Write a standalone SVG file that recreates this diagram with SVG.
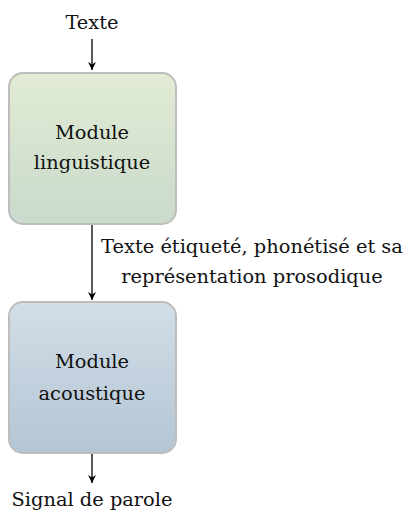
<svg xmlns="http://www.w3.org/2000/svg" width="406" height="516" viewBox="0 0 406 516">
<style>
text{font-family:"DejaVu Serif","Liberation Serif",serif;font-size:19.4px;fill:#111;text-anchor:middle}
.box{stroke:#bdbdbd;stroke-width:2}
.edge{stroke:#000;stroke-width:1.3;fill:none;marker-end:url(#ah)}
</style>
<defs>
<linearGradient id="g1" x1="0" y1="0" x2="0" y2="1"><stop offset="0" stop-color="#e2ecd4"/><stop offset="1" stop-color="#c9d9cb"/></linearGradient>
<linearGradient id="g2" x1="0" y1="0" x2="0" y2="1"><stop offset="0" stop-color="#d2dee7"/><stop offset="1" stop-color="#b3c5d4"/></linearGradient>
<marker id="ah" viewBox="0 0 10 10" refX="10" refY="5" markerWidth="8" markerHeight="8" markerUnits="userSpaceOnUse" orient="auto"><path d="M0,0 L10,5 L0,10 L3,5 Z" fill="#000"/></marker>
</defs>
<g id="connectors">
<line class="edge" x1="92" y1="39" x2="92" y2="70"/>
<line class="edge" x1="92" y1="225" x2="92" y2="300"/>
<line class="edge" x1="92" y1="454" x2="92" y2="483"/>
</g>
<g id="texte-in"><text x="92" y="29">Texte</text></g>
<g id="module-linguistique">
<rect class="box" x="9" y="73" width="167" height="151" rx="14" fill="url(#g1)"/>
<text x="92" y="139">Module</text>
<text x="92" y="169">linguistique</text>
</g>
<g id="edge-label">
<text x="252" y="253">Texte étiqueté, phonétisé et sa</text>
<text x="252" y="283">représentation prosodique</text>
</g>
<g id="module-acoustique">
<rect class="box" x="9" y="302" width="167" height="151" rx="14" fill="url(#g2)"/>
<text x="92" y="368">Module</text>
<text x="92" y="400">acoustique</text>
</g>
<g id="signal-out"><text x="92" y="506">Signal de parole</text></g>
</svg>
